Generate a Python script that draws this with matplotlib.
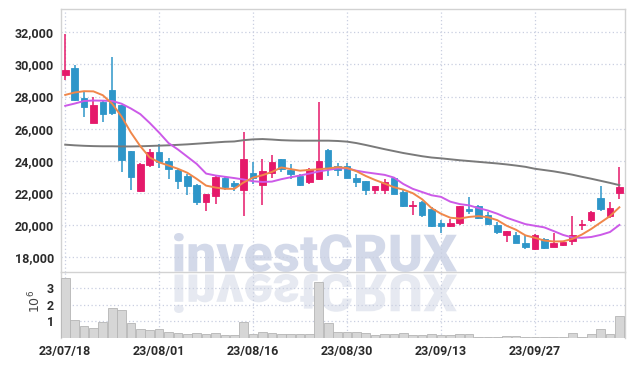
import matplotlib
matplotlib.use("Agg")
import matplotlib.pyplot as plt
from matplotlib.ticker import FixedLocator, StrMethodFormatter
from matplotlib.textpath import TextPath
from matplotlib.font_manager import FontProperties
from matplotlib.patches import PathPatch
from matplotlib.transforms import Affine2D

plt.rcParams['font.family'] = ['Roboto', 'DejaVu Sans']

# daily candles, 2023-07-18 .. 2023-10-17 (60 trading days)
opens = [29350, 29750, 27900, 26350, 27650, 28400, 27500, 24600, 22100, 23750,
         24550, 24000, 23400, 23050, 22500, 21450, 21800, 22950, 22600, 22150,
         23250, 22500, 23250, 24100, 23450, 23050, 22650, 22850, 24650, 23650,
         23700, 22950, 22750, 22200, 22200, 22950, 22050, 21150, 21400, 21000,
         20100, 19950, 20150, 21000, 21200, 20650, 20000, 19400, 19400, 18900,
         18500, 19100, 18650, 18750, 19000, 20000, 20300, 21650, 20550, 22000]
highs = [31900, 29950, 28250, 28000, 27800, 30450, 27500, 24600, 23850, 24700,
         25050, 24200, 23500, 23200, 22550, 21950, 23050, 23050, 22750, 25800,
         23900, 24100, 24350, 24100, 23800, 23200, 23550, 27650, 24750, 23850,
         23850, 23200, 22750, 22450, 22850, 23000, 22150, 21500, 21500, 21100,
         20300, 20400, 21200, 21750, 21250, 20800, 20200, 19650, 19550, 19400,
         19450, 19200, 19500, 19000, 20550, 20300, 20900, 22400, 21450, 23600]
lows = [29050, 27750, 26750, 26350, 26400, 26850, 23300, 22150, 22050, 23600,
        23550, 22850, 22250, 21850, 21250, 20900, 21300, 22200, 22100, 20550,
        22550, 21250, 22900, 23300, 22850, 22450, 22550, 22800, 23050, 23050,
        22900, 22350, 21850, 21950, 21950, 21950, 21100, 20650, 20500, 19900,
        19500, 19900, 20000, 20700, 20400, 20000, 19450, 18950, 18850, 18500,
        18450, 18500, 18600, 18700, 18750, 19700, 20200, 20900, 20450, 21600]
closes = [29650, 27800, 27350, 27450, 26900, 26950, 24050, 23000, 23800, 24550,
          23900, 23500, 22750, 22450, 21400, 21900, 23000, 22350, 22450, 24100,
          22900, 23350, 23900, 23500, 23150, 22500, 23500, 24000, 23550, 23450,
          22950, 22700, 22200, 22400, 22700, 21950, 21200, 21250, 20650, 19950,
          19950, 20150, 21150, 20850, 20450, 20050, 19550, 19650, 18900, 18650,
          19400, 18550, 18850, 18950, 19350, 20050, 20800, 21000, 21050, 22350]
# volume in millions of shares
volume = [3.60, 1.05, 0.72, 0.58, 0.95, 1.78, 1.66, 0.88, 0.52, 0.46,
          0.52, 0.38, 0.28, 0.22, 0.28, 0.22, 0.28, 0.18, 0.18, 0.95,
          0.24, 0.34, 0.28, 0.22, 0.22, 0.22, 0.22, 3.33, 0.88, 0.34,
          0.34, 0.34, 0.28, 0.20, 0.24, 0.22, 0.28, 0.18, 0.18, 0.22,
          0.15, 0.15, 0.22, 0.22, 0.06, 0.06, 0.06, 0.12, 0.12, 0.06,
          0.06, 0.06, 0.06, 0.06, 0.28, 0.06, 0.22, 0.52, 0.22, 1.33]
# moving averages
ma_short = [28100, 28250, 28330, 28320, 28080, 27550, 26750, 25750, 24900, 24200,
            23900, 23700, 23500, 23250, 22870, 22450, 22330, 22250, 22250, 22650,
            22950, 23100, 23300, 23580, 23480, 23380, 23430, 23470, 23520, 23600,
            23550, 23350, 23050, 22800, 22580, 22350, 22200, 21980, 21600, 21050,
            20700, 20450, 20400, 20500, 20550, 20480, 20300, 19950, 19700, 19350,
            19200, 19030, 18970, 18980, 19130, 19400, 19750, 20150, 20550, 21100]
ma_mid = [27420, 27560, 27720, 27750, 27740, 27720, 27550, 27250, 26900, 26350,
          25750, 25100, 24700, 24250, 23800, 23200, 23080, 23000, 22920, 22830,
          22720, 22680, 22700, 22850, 22970, 23080, 23200, 23330, 23430, 23520,
          23530, 23380, 23280, 23200, 23120, 22950, 22550, 22250, 22050, 21850,
          21750, 21450, 21300, 21220, 21050, 20900, 20700, 20450, 20250, 20050,
          19950, 19850, 19620, 19380, 19220, 19200, 19250, 19380, 19560, 20000]
ma_long = [25000, 24960, 24930, 24910, 24900, 24900, 24890, 24890, 24900, 24920,
           24940, 24960, 24990, 25020, 25060, 25100, 25140, 25180, 25200, 25280,
           25330, 25350, 25320, 25280, 25260, 25250, 25250, 25250, 25250, 25230,
           25190, 25100, 24980, 24850, 24720, 24600, 24480, 24380, 24280, 24200,
           24150, 24090, 24030, 23980, 23930, 23880, 23830, 23770, 23700, 23620,
           23500, 23420, 23340, 23240, 23130, 23000, 22880, 22750, 22620, 22480]

tick_idx = [0, 10, 20, 30, 40, 50]
tick_labels = ['23/07/18', '23/08/01', '23/08/16', '23/08/30', '23/09/13', '23/09/27']
price_ticks = [18000, 20000, 22000, 24000, 26000, 28000, 30000, 32000]
vol_ticks = [1, 2, 3]

UP = '#e5196a'
DOWN = '#2e96c9'
GRID = '#c9cfe0'
SPINE = '#d2d2d2'

W, H = 634, 366
fig = plt.figure(figsize=(W / 100, H / 100), dpi=100)
fig.patch.set_facecolor('white')

left, right = 61, 625
ax = fig.add_axes([left / W, (H - 272) / H, (right - left) / W, (272 - 9) / H])
axv = fig.add_axes([left / W, (H - 338) / H, (right - left) / W, (338 - 272) / H], sharex=ax)

idx = list(range(len(closes)))

# candles
for i in idx:
    o, c = opens[i], closes[i]
    col = UP if c >= o else DOWN
    ax.vlines(i, lows[i], highs[i], color=col, linewidth=1.1, zorder=3)
    lo = min(o, c)
    ht = max(abs(c - o), 40)
    ax.bar(i, ht, bottom=lo, width=0.7, color=col, edgecolor=col, linewidth=0.6, zorder=4)

ax.plot(idx, ma_long, color='#7a7a7a', linewidth=1.4, zorder=5)
ax.plot(idx, ma_mid, color='#cc5ae8', linewidth=1.4, zorder=5)
ax.plot(idx, ma_short, color='#f0874a', linewidth=1.4, zorder=5)

axv.bar(idx, volume, width=0.92, color='#d6d6d6', edgecolor='#b5b5b5', linewidth=0.6, zorder=3)

for a in (ax, axv):
    a.set_facecolor('none')
    a.set_xlim(-0.45, 59.6)
    a.xaxis.set_major_locator(FixedLocator(tick_idx))
    a.grid(True, color=GRID, linestyle=(0, (1, 2)), linewidth=0.9)
    a.tick_params(length=0, labelsize=9, labelcolor='#2b2b2b', pad=5)
    for s in a.spines.values():
        s.set_color(SPINE)
        s.set_linewidth(1)

ax.set_ylim(17070, 33450)
ax.yaxis.set_major_locator(FixedLocator(price_ticks))
ax.yaxis.set_major_formatter(StrMethodFormatter('{x:,.0f}'))
ax.tick_params(axis='x', labelbottom=False)
ax.spines['bottom'].set_visible(False)
for lab in ax.get_yticklabels():
    lab.set_fontweight('bold')

axv.set_ylim(0, 3.95)
axv.yaxis.set_major_locator(FixedLocator(vol_ticks))
axv.set_yticklabels([str(v) for v in vol_ticks], fontweight='bold')
axv.set_xticklabels(tick_labels, fontweight='bold')
axv.spines['bottom'].set_visible(False)
axv.text(-0.046, 0.55, r'$10^6$', transform=axv.transAxes, rotation=90,
         ha='center', va='center', fontsize=9, color='#444444')

# watermark with reflection
tp = TextPath((0, 0), 'investCRUX', size=100,
              prop=FontProperties(family=['Roboto', 'DejaVu Sans'], weight='black'))
ext = tp.get_extents()
x0, x1, ytop, ybot = 174, 457, 233, 272
sx = (x1 - x0) / ext.width
sy = (ybot - ytop) / ext.height
to_fig = Affine2D().scale(1 / W, 1 / H) + fig.transFigure
main_tr = Affine2D().translate(-ext.x0, -ext.y0).scale(sx, sy).translate(x0, H - ybot)
refl_tr = Affine2D().translate(-ext.x0, -ext.y0).scale(sx, -sy).translate(x0, H - ybot - 2)
fig.add_artist(PathPatch(main_tr.transform_path(tp), fc='#d3d9e9', ec='none',
                         transform=to_fig, zorder=-2))
fig.add_artist(PathPatch(refl_tr.transform_path(tp), fc='#e6e9f1', ec='none',
                         transform=to_fig, zorder=-2))

fig.savefig('out.png', dpi=100, facecolor='white')
